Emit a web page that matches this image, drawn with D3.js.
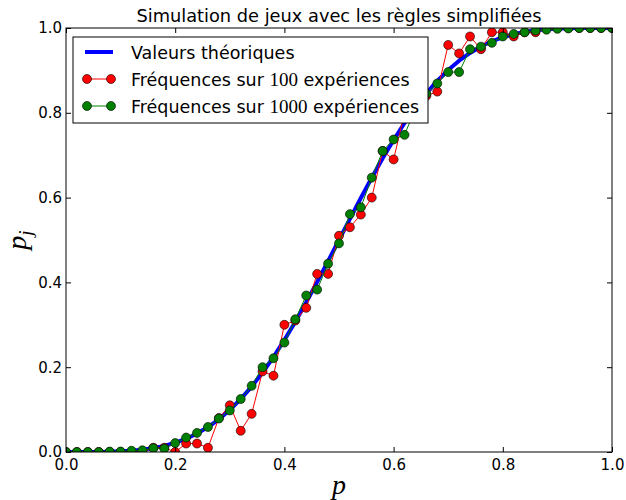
<!DOCTYPE html>
<html><head><meta charset="utf-8">
<script src="https://cdn.jsdelivr.net/npm/d3@7/dist/d3.min.js"></script>
<style>body{margin:0;background:#fff}svg{display:block}</style>
</head><body>
<svg id="chart" width="626" height="500"></svg>
<script>
const pValues = d3.range(51).map(i => +(i * 0.02).toFixed(2));
const theoretical = [0,0,0.00004,0.0002,0.0006,0.0015,0.003,0.0055,0.0092,0.0145,0.0218,0.0314,0.0436,0.0588,0.0772,0.0992,0.1249,0.1543,0.1874,0.2241,0.2643,0.3074,0.3532,0.4010,0.4501,0.5,0.5499,0.5990,0.6468,0.6926,0.7357,0.7759,0.8126,0.8458,0.8752,0.9008,0.9228,0.9412,0.9564,0.9687,0.9782,0.9855,0.9908,0.9946,0.9970,0.9986,0.9994,0.9998,1.0,1.0,1.0];
const freq100 = [0,0,0,0,0,0,0,0,0.01,0.01,0.00,0.02,0.02,0.01,0.08,0.11,0.05,0.09,0.19,0.18,0.30,0.31,0.34,0.42,0.42,0.51,0.53,0.56,0.60,0.71,0.69,0.80,0.83,0.84,0.85,0.96,0.94,0.98,0.95,0.99,0.99,0.98,0.99,0.99,1.0,1.0,1.0,1.0,1.0,1.0,1.0];
const freq1000 = [0,0,0,0,0.001,0.001,0.003,0.004,0.009,0.008,0.021,0.034,0.045,0.059,0.079,0.098,0.125,0.156,0.200,0.221,0.258,0.313,0.369,0.383,0.444,0.492,0.561,0.577,0.647,0.710,0.737,0.748,0.810,0.845,0.869,0.896,0.896,0.950,0.956,0.965,0.980,0.986,0.990,0.994,0.996,0.998,0.999,1.0,1.0,1.0,1.0];
const xTicks = [0,0.2,0.4,0.6,0.8,1.0];
const yTicks = [0,0.2,0.4,0.6,0.8,1.0];
const titleText = "Simulation de jeux avec les règles simplifiées";
const legendLabels = ["Valeurs théoriques", ["Fréquences sur ", "100", " expériences"], ["Fréquences sur ", "1000", " expériences"]];

const svg = d3.select("#chart");
const L = 66, R = 612, T = 28, B = 452;
const x = d3.scaleLinear().domain([0,1]).range([L,R]);
const y = d3.scaleLinear().domain([0,1]).range([B,T]);
const font = "DejaVu Sans, sans-serif";

svg.append("defs").append("clipPath").attr("id","clip")
  .append("rect").attr("x",L).attr("y",T).attr("width",R-L).attr("height",B-T);

const plot = svg.append("g").attr("clip-path","url(#clip)");
const line = d3.line().x((d,i)=>x(pValues[i])).y(d=>y(d));

plot.append("path").datum(theoretical).attr("d",line)
  .attr("fill","none").attr("stroke","#0000ff").attr("stroke-width",4).attr("stroke-linejoin","round");

function series(vals,color){
  plot.append("path").datum(vals).attr("d",line)
    .attr("fill","none").attr("stroke",color).attr("stroke-width",1);
  plot.append("g").selectAll("circle").data(vals).join("circle")
    .attr("cx",(d,i)=>x(pValues[i])).attr("cy",d=>y(d)).attr("r",4.5)
    .attr("fill",color).attr("stroke","#000").attr("stroke-width",0.6);
}
series(freq100,"#ff0000");
series(freq1000,"#008000");

const fmt = d3.format(".1f");
const tl = 5;
const gB = svg.append("g").attr("transform",`translate(0,${B})`)
  .call(d3.axisBottom(x).tickValues(xTicks).tickFormat(fmt).tickSizeInner(-tl).tickSizeOuter(0).tickPadding(7));
const gT = svg.append("g").attr("transform",`translate(0,${T})`)
  .call(d3.axisTop(x).tickValues(xTicks).tickFormat("").tickSizeInner(-tl).tickSizeOuter(0));
const gL = svg.append("g").attr("transform",`translate(${L},0)`)
  .call(d3.axisLeft(y).tickValues(yTicks).tickFormat(fmt).tickSizeInner(-tl).tickSizeOuter(0).tickPadding(4));
const gR = svg.append("g").attr("transform",`translate(${R},0)`)
  .call(d3.axisRight(y).tickValues(yTicks).tickFormat("").tickSizeInner(-tl).tickSizeOuter(0));
[gB,gT,gL,gR].forEach(g=>{
  g.select(".domain").remove();
  g.selectAll("line").attr("stroke","#000").attr("stroke-width",1);
  g.selectAll("text").attr("font-family",font).attr("font-size",15).attr("fill","#000");
});
svg.append("rect").attr("x",L).attr("y",T).attr("width",R-L).attr("height",B-T)
  .attr("fill","none").attr("stroke","#000").attr("stroke-width",1);

svg.append("text").attr("x",(L+R)/2).attr("y",22).attr("text-anchor","middle")
  .attr("font-family",font).attr("font-size",17.8).attr("fill","#000").text(titleText);

svg.append("text").attr("x",(L+R)/2).attr("y",494).attr("text-anchor","middle")
  .attr("font-family","Liberation Serif, serif").attr("font-style","italic").attr("font-size",28).text("p");
const yl = svg.append("text").attr("transform","translate(26,240) rotate(-90)").attr("text-anchor","middle")
  .attr("font-family","Liberation Serif, serif").attr("font-style","italic").attr("font-size",28);
yl.append("tspan").text("p");
yl.append("tspan").attr("font-size",19).attr("dy",6).text("j");

const lg = svg.append("g");
lg.append("rect").attr("x",73).attr("y",37).attr("width",355).attr("height",86)
  .attr("fill","#fff").attr("stroke","#000").attr("stroke-width",1);
const rows = [52,79,106];
lg.append("line").attr("x1",85).attr("x2",113).attr("y1",rows[0]).attr("y2",rows[0])
  .attr("stroke","#0000ff").attr("stroke-width",4);
[["#ff0000",rows[1]],["#008000",rows[2]]].forEach(([c,ry])=>{
  lg.append("line").attr("x1",87).attr("x2",111).attr("y1",ry).attr("y2",ry).attr("stroke",c).attr("stroke-width",1);
  [87,111].forEach(cx=>lg.append("circle").attr("cx",cx).attr("cy",ry).attr("r",4.5)
    .attr("fill",c).attr("stroke","#000").attr("stroke-width",0.6));
});
lg.append("text").attr("x",131).attr("y",rows[0]+6.5).attr("font-family",font).attr("font-size",17.5).text(legendLabels[0]);
[1,2].forEach(k=>{
  const t = lg.append("text").attr("x",131).attr("y",rows[k]+6.5).attr("font-family",font).attr("font-size",17.5);
  t.append("tspan").text(legendLabels[k][0]);
  t.append("tspan").attr("font-family","Liberation Serif, serif").attr("font-size",19).text(legendLabels[k][1]);
  t.append("tspan").text(legendLabels[k][2]);
});
</script>
</body></html>
